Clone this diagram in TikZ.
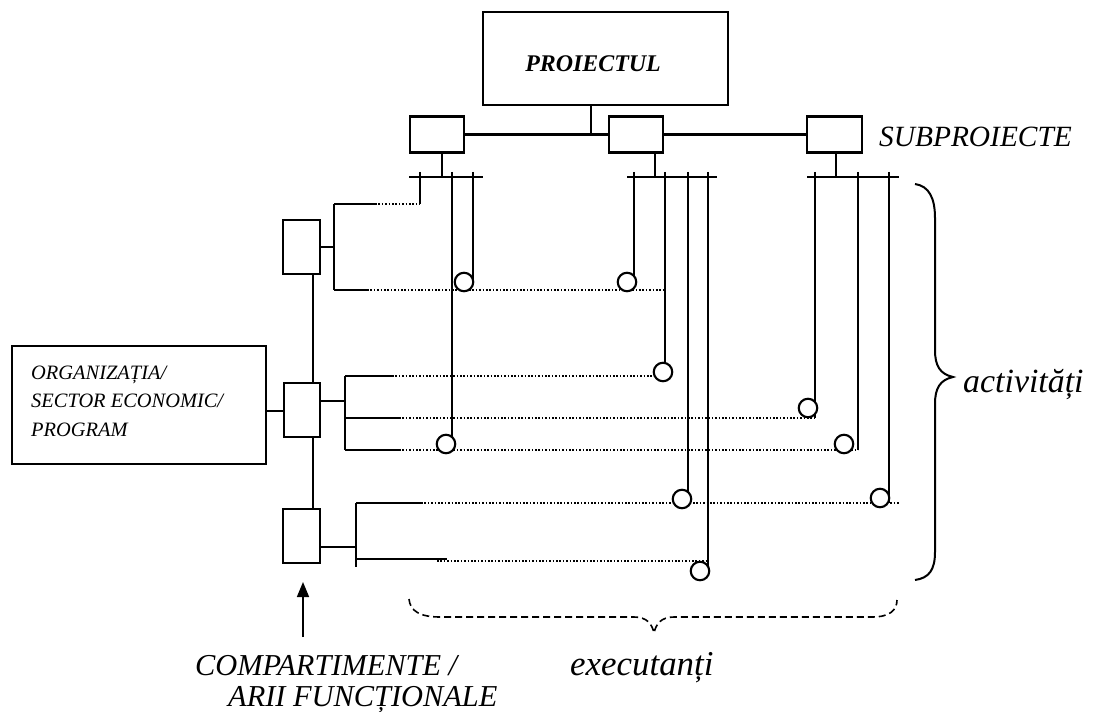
\documentclass[tikz,border=0pt]{standalone}
\usepackage{fontspec}
\setmainfont{Liberation Serif}
\usetikzlibrary{arrows.meta,calc}
\begin{document}
\begin{tikzpicture}[x=1bp,y=-1bp,
  ln/.style={line width=2.1bp},
  dotln/.style={line width=1.5bp, dash pattern=on 1.5bp off 1.9bp},
  bx/.style={draw, line width=2.1bp, inner sep=0pt},
  ring/.style={circle, draw, fill=white, line width=2.1bp, minimum size=18.5bp, inner sep=0pt},
  lbl/.style={inner sep=0pt, font=\itshape}
]
\useasboundingbox[fill=white] (0,0) rectangle (1100,712);

% boxes
\node[bx, minimum width=245bp, minimum height=93bp] (proj) at (605.5,58.5) {};
\node[inner sep=0pt, font=\bfseries\itshape\fontsize{24}{28}\selectfont] (projt) at (593,64) {PROIECTUL};
\node[bx, minimum width=54bp, minimum height=36bp] (sp1) at (437,134.5) {};
\node[bx, minimum width=54bp, minimum height=36bp] (sp2) at (636,134.5) {};
\node[bx, minimum width=55bp, minimum height=36bp] (sp3) at (834.5,134.5) {};
\node[bx, minimum width=37bp, minimum height=54bp] (c1) at (301.5,247) {};
\node[bx, minimum width=36bp, minimum height=54bp] (c2) at (302,410) {};
\node[bx, minimum width=37bp, minimum height=54bp] (c3) at (301.5,536) {};
\node[bx, minimum width=254bp, minimum height=118bp] (org) at (139,405) {};
\node[lbl, anchor=west, align=left, font=\itshape\fontsize{20.5}{28.5}\selectfont] (orgt) at (31,401)
  {ORGANIZAȚIA/\\SECTOR ECONOMIC/\\PROGRAM};

% top connectors
\coordinate (pj) at (591,134.5);
\draw[ln] (proj.south -| pj) -- (pj);
\draw[ln] (sp1.east) -- (sp2.west);
\draw[ln] (sp2.east) -- (sp3.west);

% buses
\coordinate (b1) at (442,177);
\coordinate (b2) at (655,177);
\coordinate (b3) at (836,177);
\draw[ln] (sp1.south -| b1) -- (b1);
\draw[ln] (sp2.south -| b2) -- (b2);
\draw[ln] (sp3.south -| b3) -- (b3);
\draw[ln] (409,177) coordinate (b1l) -- (483,177) coordinate (b1r);
\draw[ln] (627,177) coordinate (b2l) -- (717,177) coordinate (b2r);
\draw[ln] (807,177) coordinate (b3l) -- (899,177) coordinate (b3r);

% tick tops
\coordinate (t11) at (420,172);
\coordinate (t12) at (452,172);
\coordinate (t13) at (473,172);
\coordinate (t21) at (634,172);
\coordinate (t22) at (665,172);
\coordinate (t23) at (688,172);
\coordinate (t24) at (708,172);
\coordinate (t31) at (815,172);
\coordinate (t32) at (858,172);
\coordinate (t33) at (889,172);

% brackets and rows
\coordinate (rA) at (334,204);
\coordinate (rB) at (334,290);
\coordinate (rC) at (345,376);
\coordinate (rD) at (345,418);
\coordinate (rE) at (345,450);
\coordinate (rF) at (356,503);
\coordinate (rG) at (356,559);
\coordinate (rGb) at (356,567);

\draw[ln] (rA) -- (rB);
\draw[ln] (c1.east) -- (c1.east -| rA);
\draw[ln] (rC) -- (rE);
\draw[ln] ($(c2.east)+(0,-9)$) coordinate (c2e) -- (c2e -| rC);
\draw[ln] (rF) -- (rGb);
\draw[ln] ($(c3.east)+(0,11)$) coordinate (c3e) -- (c3e -| rF);

% spine
\coordinate (spn) at (313,0);
\draw[ln] (c1.south -| spn) -- (c2.north -| spn);
\draw[ln] (c2.south -| spn) -- (c3.north -| spn);

% org connector
\coordinate (oc) at (0,411);
\draw[ln] (org.east |- oc) -- (c2.west |- oc);

% row lines
\draw[ln] (rA) -- ++(41,0) coordinate (eA);
\draw[dotln] (eA) -- (t11 |- rA);
\draw[ln] (rB) -- ++(33,0) coordinate (eB);
\draw[dotln] (eB) -- (t22 |- rB);
\draw[ln] (rC) -- ++(47,0) coordinate (eC);
\draw[dotln] (eC) -- (t22 |- rC);
\draw[ln] (rD) -- ++(54,0) coordinate (eD);
\draw[dotln] (eD) -- (t31 |- rD);
\draw[ln] (rE) -- ++(54,0) coordinate (eE);
\draw[dotln] (eE) -- (t32 |- rE);
\draw[ln] (rF) -- ++(65,0) coordinate (eF);
\draw[dotln] (eF) -- (899,503) coordinate (fF);
\draw[ln] (rG) -- ++(91,0) coordinate (eG);
\draw[dotln] (437,561) coordinate (gG) -- (t24 |- gG);

% vertical executant lines
\draw[ln] (t11) -- (t11 |- rA);
\draw[ln] (t12) -- (t12 |- rE);
\draw[ln] (t13) -- (t13 |- 0,282);
\draw[ln] (t21) -- (t21 |- 0,282);
\draw[ln] (t22) -- (t22 |- 0,372);
\draw[ln] (t23) -- (t23 |- 0,499);
\draw[ln] (t24) -- (t24 |- 0,571);
\draw[ln] (t31) -- (t31 |- rD);
\draw[ln] (t32) -- (t32 |- rE);
\draw[ln] (t33) -- (t33 |- rF);

% circles
\node[ring] (r1) at (464,282) {};
\node[ring] (r2) at (627,282) {};
\node[ring] (r3) at (663,372) {};
\node[ring] (r4) at (808,408) {};
\node[ring] (r5) at (446,444) {};
\node[ring] (r6) at (844,444) {};
\node[ring] (r7) at (682,499) {};
\node[ring] (r8) at (880,498) {};
\node[ring] (r9) at (700,571) {};

% activitati brace
\draw[line width=2bp] (915,184) .. controls (929,186) and (935,198) .. (935,218)
  -- (935,350) .. controls (935,366) and (940,374) .. (953,377)
  .. controls (940,380) and (935,388) .. (935,404)
  -- (935,552) .. controls (935,570) and (929,578) .. (915,580);
\node[lbl, anchor=base west, font=\itshape\fontsize{34}{40}\selectfont] (actt) at (963,392) {activități};

% executanti dashed brace
\draw[line width=1.6bp, dash pattern=on 7bp off 4bp] (409,599) .. controls (410,611) and (420,617) .. (440,617)
  -- (634,617) .. controls (647,617) and (652,624) .. (654,633)
  .. controls (656,624) and (661,617) .. (674,617)
  -- (872,617) .. controls (890,617) and (897,610) .. (897,600);
\node[lbl, anchor=base west, font=\itshape\fontsize{35}{40}\selectfont] (exect) at (570,675) {executanți};

% labels
\node[lbl, anchor=west, font=\itshape\fontsize{29.5}{34}\selectfont] (subt) at (879,137) {SUBPROIECTE};
\node[lbl, anchor=base west, font=\itshape\fontsize{30.5}{36}\selectfont] (compt) at (195,675) {COMPARTIMENTE /};
\node[lbl, anchor=base west, font=\itshape\fontsize{30.5}{36}\selectfont] (ariit) at (228,706) {ARII FUNCȚIONALE};

% arrow
\coordinate (ab) at (303,637);
\coordinate (at) at (303,582);
\draw[line width=1.6bp, -{Triangle[length=15bp,width=12bp]}] (ab) -- (at);
\end{tikzpicture}
\end{document}
